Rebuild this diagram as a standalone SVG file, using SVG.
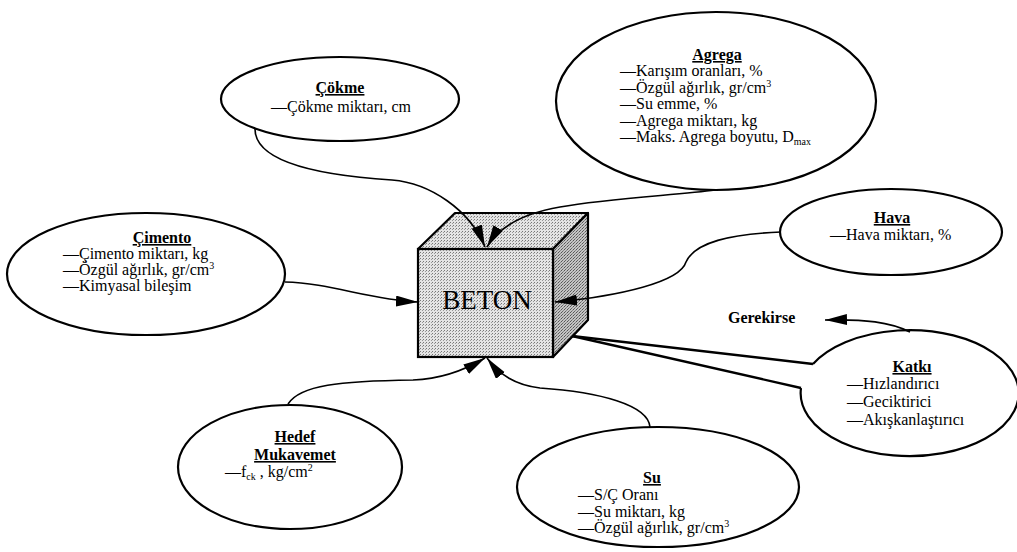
<svg xmlns="http://www.w3.org/2000/svg" width="1017" height="552" viewBox="0 0 1017 552">
<style>
.el{fill:#fff;stroke:#000;stroke-width:2.2}
.t{font-family:"Liberation Serif","Times New Roman",serif;font-size:16px;fill:#000}
.h{font-weight:bold;text-decoration:underline;text-anchor:middle}
.c{fill:none;stroke:#000;stroke-width:1.6}
.k{fill:none;stroke:#000;stroke-width:2.4}
.sub{font-size:10px}
</style>
<defs>
<marker id="ah" markerUnits="userSpaceOnUse" markerWidth="24" markerHeight="12" refX="22" refY="5.5" orient="auto" viewBox="0 0 24 12">
<path d="M0,0 L22,5.5 L0,11 Z" fill="#000"/>
</marker>
<pattern id="dots" width="3" height="3" patternUnits="userSpaceOnUse">
<rect width="3" height="3" fill="#e4e4e4"/>
<rect x="0" y="0" width="1" height="1" fill="#777"/>
<rect x="2" y="1" width="1" height="1" fill="#999"/>
</pattern>
<pattern id="dots2" width="3" height="3" patternUnits="userSpaceOnUse">
<rect width="3" height="3" fill="#c4c4c4"/>
<rect x="0" y="0" width="1" height="1" fill="#555"/>
<rect x="1" y="2" width="1" height="1" fill="#666"/>
<rect x="2" y="1" width="1" height="1" fill="#888"/>
</pattern>
</defs>

<g id="beton">
<polygon points="418,249 455,213 588,213 553,249" fill="url(#dots)" stroke="#000" stroke-width="2.2" stroke-linejoin="round"/>
<polygon points="553,249 588,213 588,320 553,357" fill="url(#dots2)" stroke="#000" stroke-width="2.2" stroke-linejoin="round"/>
<rect x="418" y="249" width="135" height="108" fill="url(#dots)" stroke="#000" stroke-width="2.2"/>
<text x="487" y="309" class="t" text-anchor="middle" style="font-size:27px">BETON</text>
</g>

<g id="cokme">
<ellipse class="el" cx="340" cy="99" rx="119" ry="42"/>
<text class="t h" x="340" y="93">Çökme</text>
<text class="t" x="271" y="112">—Çökme miktarı, cm</text>
</g>

<g id="agrega">
<ellipse class="el" cx="716" cy="101" rx="160" ry="89"/>
<text class="t h" x="717" y="60">Agrega</text>
<text class="t" x="620" y="76">—Karışım oranları, %</text>
<text class="t" x="620" y="93">—Özgül ağırlık, gr/cm<tspan class="sub" dy="-6">3</tspan></text>
<text class="t" x="620" y="109">—Su emme, %</text>
<text class="t" x="620" y="126">—Agrega miktarı, kg</text>
<text class="t" x="620" y="142">—Maks. Agrega boyutu, D<tspan class="sub" dy="3">max</tspan></text>
</g>

<g id="hava">
<ellipse class="el" cx="891" cy="232" rx="111" ry="43"/>
<text class="t h" x="892" y="223">Hava</text>
<text class="t" x="830" y="240">—Hava miktarı, %</text>
</g>

<g id="cimento">
<ellipse class="el" cx="146" cy="274" rx="139" ry="61"/>
<text class="t h" x="162" y="243">Çimento</text>
<text class="t" x="63" y="259">—Çimento miktarı, kg</text>
<text class="t" x="63" y="275">—Özgül ağırlık, gr/cm<tspan class="sub" dy="-6">3</tspan></text>
<text class="t" x="63" y="291">—Kimyasal bileşim</text>
</g>

<g id="gerekirse">
<text class="t" x="728" y="323" font-weight="bold">Gerekirse</text>
</g>

<g id="katki">
<path class="el" d="M813,364 A109,63 0 1 1 801,388"/>
<text class="t h" x="912" y="372">Katkı</text>
<text class="t" x="847" y="389">—Hızlandırıcı</text>
<text class="t" x="847" y="407">—Geciktirici</text>
<text class="t" x="847" y="425">—Akışkanlaştırıcı</text>
</g>

<g id="hedef">
<ellipse class="el" cx="290" cy="467" rx="112" ry="62"/>
<text class="t h" x="295" y="442">Hedef</text>
<text class="t h" x="295" y="460">Mukavemet</text>
<text class="t" x="225" y="477">—f<tspan class="sub" dy="3">ck</tspan><tspan dy="-3"> , kg/cm</tspan><tspan class="sub" dy="-6">2</tspan></text>
</g>

<g id="su">
<ellipse class="el" cx="658" cy="487" rx="141" ry="60"/>
<text class="t h" x="652" y="483">Su</text>
<text class="t" x="578" y="500">—S/Ç Oranı</text>
<text class="t" x="578" y="517">—Su miktarı, kg</text>
<text class="t" x="578" y="533">—Özgül ağırlık, gr/cm<tspan class="sub" dy="-6">3</tspan></text>
</g>

<g id="connectors">
<path class="c" d="M255,129 C255,165 330,176 392,180 C430,183 470,210 485,247" marker-end="url(#ah)"/>
<path class="c" d="M715,190 C680,195 610,198 560,207 C525,213 500,225 487,247" marker-end="url(#ah)"/>
<path class="c" d="M285,282 C330,283 370,300 418,302" marker-end="url(#ah)"/>
<path class="c" d="M781,232 C730,234 695,242 686,262 C680,282 620,296 555,302" marker-end="url(#ah)"/>
<path class="c" d="M288,404 C300,385 340,381 413,380 C440,379 465,370 485,358" marker-end="url(#ah)"/>
<path class="c" d="M650,427 C648,405 600,392 540,388 C515,385 500,375 487,358" marker-end="url(#ah)"/>
<path class="c" d="M910,332 C890,322 865,319 825,320" marker-end="url(#ah)"/>
<path class="k" d="M572,336 L813,364"/>
<path class="k" d="M572,336 L801,388"/>
</g>
</svg>
